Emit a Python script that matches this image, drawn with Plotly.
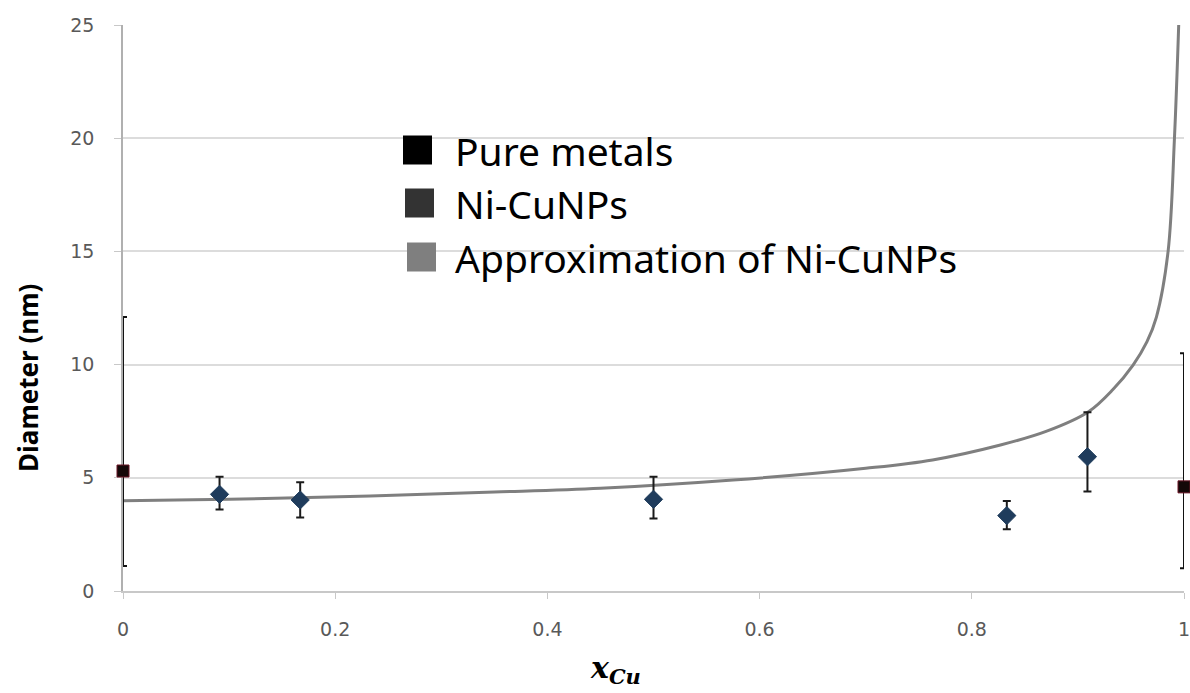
import plotly.graph_objects as go

# ---------------- data ----------------
pure_x = [0.0, 1.0]
pure_y = [5.3, 4.6]
pure_err_plus = [6.8, 5.9]
pure_err_minus = [4.2, 3.6]

nicu_x = [0.091, 0.167, 0.5, 0.833, 0.909]
nicu_y = [4.27, 4.02, 4.05, 3.33, 5.93]
nicu_err_plus = [0.78, 0.78, 1.0, 0.64, 1.97]
nicu_err_minus = [0.67, 0.77, 0.85, 0.6, 1.54]

approx_x = [0.0, 0.1, 0.233, 0.35, 0.45, 0.575, 0.7, 0.763, 0.827, 0.87,
            0.91, 0.933, 0.952, 0.965, 0.974, 0.985, 0.991, 0.995]
approx_y = [3.99, 4.05, 4.2, 4.37, 4.54, 4.9, 5.42, 5.79, 6.45, 7.05,
            7.92, 8.9, 9.98, 11.0, 12.1, 15.0, 20.0, 25.0]

x_ticks = [0, 0.2, 0.4, 0.6, 0.8, 1]
x_tick_labels = ["0", "0.2", "0.4", "0.6", "0.8", "1"]
y_ticks = [0, 5, 10, 15, 20, 25]
y_tick_labels = ["0", "5", "10", "15", "20", "25"]

legend_names = ["Pure metals", "Ni-CuNPs", "Approximation of Ni-CuNPs"]
legend_colors = ["#000000", "#333333", "#7f7f7f"]

# ---------------- layout geometry ----------------
W, H = 1190, 693
L, R, T, B = 123, 1184, 25, 591


def pxx(xp):
    return (xp - L) / (R - L)


def pxy(yp):
    return (B - yp) / (B - T)


fig = go.Figure()

fig.add_trace(go.Scatter(
    x=approx_x, y=approx_y, mode="lines", line_shape="spline",
    line=dict(color="#7f7f7f", width=3), name=legend_names[2],
    showlegend=False, hoverinfo="skip"))

fig.add_trace(go.Scatter(
    x=pure_x, y=pure_y, mode="markers", name=legend_names[0],
    marker=dict(symbol="square", size=12, color="#140808",
                line=dict(color="#6a1424", width=1)),
    error_y=dict(type="data", symmetric=False, array=pure_err_plus,
                 arrayminus=pure_err_minus, color="#111111",
                 thickness=2, width=4),
    cliponaxis=False, showlegend=False))

fig.add_trace(go.Scatter(
    x=nicu_x, y=nicu_y, mode="markers", name=legend_names[1],
    marker=dict(symbol="diamond", size=14, color="#1f3c5c",
                line=dict(color="#1f3c5c", width=1)),
    error_y=dict(type="data", symmetric=False, array=nicu_err_plus,
                 arrayminus=nicu_err_minus, color="#1a1a1a",
                 thickness=2, width=4),
    cliponaxis=False, showlegend=False))

# ---------------- hand-made legend (squares + text) ----------------
row_centers = [150, 203, 257]
sq_left = [403, 405, 407]
sq = 29
shapes = []
annotations = []
for name, col, yc, xl in zip(legend_names, legend_colors, row_centers, sq_left):
    shapes.append(dict(type="rect", xref="paper", yref="paper",
                       x0=pxx(xl), x1=pxx(xl + sq),
                       y0=pxy(yc + sq / 2), y1=pxy(yc - sq / 2),
                       fillcolor=col, line=dict(width=0)))
    annotations.append(dict(text=name, xref="paper", yref="paper",
                            x=pxx(453), y=pxy(yc), xanchor="left",
                            yanchor="middle", showarrow=False,
                            font=dict(family="Noto Sans", size=39,
                                      color="#000000")))

# axis titles
annotations.append(dict(
    text="Diameter (nm)", xref="paper", yref="paper",
    x=pxx(28), y=pxy(378), textangle=-90, showarrow=False,
    xanchor="center", yanchor="middle",
    font=dict(family="Noto Sans", size=26, color="#000000", weight="bold")))
annotations.append(dict(
    text="<b><i>x</i></b><sub><b><i>Cu</i></b></sub>",
    xref="paper", yref="paper", x=pxx(615), y=pxy(669),
    showarrow=False, xanchor="center", yanchor="middle",
    font=dict(family="DejaVu Serif", size=30, color="#000000")))

fig.update_layout(
    width=W, height=H,
    margin=dict(l=L, r=W - R, t=T, b=H - B, pad=0, autoexpand=False),
    paper_bgcolor="white", plot_bgcolor="white",
    showlegend=False,
    shapes=shapes, annotations=annotations,
    xaxis=dict(range=[0, 1], tickvals=x_ticks, ticktext=x_tick_labels,
               automargin=False,
               showgrid=False, zeroline=False, showline=True,
               linecolor="#c8c8c8", linewidth=1.5, layer="below traces",
               ticks="outside", ticklen=6, tickcolor="#c8c8c8",
               ticklabelstandoff=14, ticklabeloverflow="allow",
               tickfont=dict(family="DejaVu Sans", size=19, color="#595959")),
    yaxis=dict(range=[0, 25], tickvals=y_ticks, ticktext=y_tick_labels,
               automargin=False,
               showgrid=True, gridcolor="#dcdcdc", gridwidth=1.5,
               zeroline=False, showline=True, layer="below traces",
               linecolor="#b0b0b0", linewidth=1.5,
               ticks="outside", ticklen=7, tickcolor="#c8c8c8",
               ticklabelstandoff=16, ticklabeloverflow="allow",
               tickfont=dict(family="DejaVu Sans", size=19, color="#595959")),
)

fig.write_html(
    "out.html",
    config={"displayModeBar": False},
    post_script="document.body.style.margin='0';"
                "document.body.style.overflow='hidden';")
